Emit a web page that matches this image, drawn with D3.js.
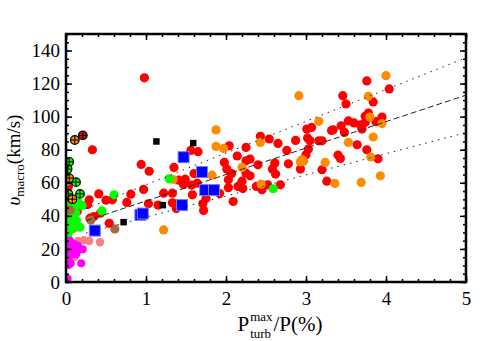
<!DOCTYPE html>
<html>
<head>
<meta charset="utf-8">
<script src="https://cdn.jsdelivr.net/npm/d3@7"></script>
<style>
body { margin:0; background:#fff; }
text { font-family:"Liberation Serif","DejaVu Serif",serif; }
</style>
</head>
<body>
<div id="chart-area"></div>
<script>
// data: [P_turb^max/P (%), v_macro (km/s)]
var redPts = [
  [0.33,80],[0.03,57.8],[0.02,54],[0.41,53.3],[0.81,53.1],[0.97,56],[0.5,49.5],[0.58,49.7],
  [0.76,48.1],[0.29,49.7],[0.27,46.9],[0.08,41.2],[0.14,42.6],[0.3,38.6],[0.35,39.6],[0.43,41.6],
  [0.54,35.5],[0.94,71.1],[1.04,67],
  [0.98,123.5],[1.56,79.6],[1.65,78.8],[2.04,82.4],[2.25,81.4],[2.14,76.2],[1.98,72.3],[2.25,73.3],
  [1.35,69.3],[1.6,65.6],[2.01,68.3],[2.07,65.6],[2.25,65.8],[2.03,61.8],[2.2,61],[2.21,56.5],
  [1.41,61.6],[1.49,62.2],[1.47,59],[1.57,58.6],[1.64,59.8],[1.92,53.5],[2.03,57],[2.09,48.7],
  [1.58,52.7],[1.22,53.7],[1.33,53.7],[1.33,47.9],[1.03,47.3],[1.15,46.5],[1.38,44.4],[1.75,50.5],
  [1.71,47.3],[1.72,43.2],[2.15,57.8],
  [3.46,112.7],[3.5,107.7],[3.53,97.4],[3.44,94.5],[3.34,92.1],[3.07,93.5],[3.01,92.5],[3.48,90.5],
  [3.02,87.1],[3.05,85.4],[3.16,85.4],[3.2,85.4],[2.87,85.6],[3.03,80.4],[3.0,77],[2.76,79.6],
  [2.65,83.8],[2.54,86.5],[2.43,88.1],[2.3,74.4],[3.4,76.8],[2.4,70.9],[2.61,71.9],[2.78,71.5],
  [2.58,68.3],[2.62,65.3],[2.93,68.3],[3.2,67.9],[3.43,74.7],[2.3,64.2],[2.38,57.8],[2.52,58.8],
  [2.45,55.8],[2.68,58.8],[3.26,61],[3.76,121.6],[4.04,116.8],[3.84,108.9],[3.6,96.2],[3.74,100.2],
  [3.78,102.2],[3.95,99.8],[3.875,97],[3.74,96.6],[3.7,92.5],[3.68,95],[3.64,83],[3.76,80],
  [3.9,74.5],[3.32,91.7]
];
var orangePts = [
  [1.875,92],[1.875,82],[1.97,80.8],[1.825,64.6],[2.2,69.3],[1.34,62],[1.22,31.5],[2.91,112.7],
  [3.16,97.2],[2.95,74],[2.43,84.4],[3.53,84.4],[2.93,72.7],[2.97,73.1],[3.24,72.3],[2.44,59.2],
  [3.36,59.6],[4.0,124.8],[3.78,112.3],[3.8,99.8],[3.95,95.8],[3.84,87.7],[3.81,75.6],[3.93,64.2],
  [3.69,60.2],[0.1,32.5]
];
var greenPts = [
  [1.29,62.4],[2.59,56.4],[0.6,52.7],[0.45,43],[0.06,46.7],[0.16,47.7],[0.2,46.2],[0.175,33.1],
  [0.04,36.5],[0.07,32.1],[0.03,29.9],[0.02,50],[0.1,44],[0.03,42],[0.12,42],[0.02,39],[0.07,39],
  [0.03,34],[0.0,65],[0.0,70],[0.01,61],[0.02,27.5],[0.09,48],[0.13,37]
];
var brownPts = [[0.05,43.6],[0.31,37.4],[0.61,32.1]];
var salmonPts = [[0.15,24.8],[0.225,25.3],[0.29,24.8],[0.425,24],[0.125,21.4],[0.11,15.3]];
var magentaPts = [
  [0.03,23.4],[0.07,21.4],[0.11,19.8],[0.175,19.8],[0.21,19.8],[0.06,18.4],[0.08,17],[0.03,15.3],
  [0.06,11.3],[0.19,11.3],[0.03,10.3],[0.02,2],[0.05,25],[0.1,23],[0.13,17],[0.04,20],[0.15,22]
];
var blackSq = [[1.13,85],[1.59,84],[1.21,46.5],[0.72,36.2]];
var blueSq = [[1.47,75.5],[1.7,66.5],[1.74,55.6],[1.85,55.6],[1.45,46.5],[0.93,40.6],[0.96,41.4],[0.36,31.1]];
var greenPlus = [[0.04,72.7],[0.02,68.3],[0.125,60.4],[0.175,53.3],[0.03,53.3]];
var orangePlus = [[0.11,85.9],[0.04,62.8],[0.08,50.1]];
var darkRedPlus = [[0.21,88.7]];

// fitted relation and +/- band (end points)
var fitX = [0.25, 5];
var fitMid = [37, 113];
var fitUpper = [44.4, 135.6];
var fitLower = [29.6, 90.4];

var xTicks = [0,1,2,3,4,5];
var yTicks = [0,20,40,60,80,100,120,140];

var W = 500, H = 341;
var margin = { left:66, right:34, top:34, bottom:59 };

var svg = d3.select("#chart-area").append("svg")
    .attr("width", W)
    .attr("height", H);

var x = d3.scaleLinear().domain([0,5]).range([margin.left, W - margin.right]);
var y = d3.scaleLinear().domain([0,150]).range([H - margin.bottom, margin.top]);

var plot = svg.append("g");

// clip so points on the axis get cut like in the original
svg.append("clipPath").attr("id","clip")
  .append("rect")
    .attr("x", x(0)).attr("y", y(150))
    .attr("width", x(5) - x(0)).attr("height", y(0) - y(150));

var marks = plot.append("g").attr("clip-path","url(#clip)");

function dots(data, color, r) {
    marks.append("g").selectAll("circle")
        .data(data).enter().append("circle")
        .attr("cx", function(d){ return x(d[0]); })
        .attr("cy", function(d){ return y(d[1]); })
        .attr("r", r)
        .attr("fill", color);
}
function squares(data, color, s, stroke) {
    marks.append("g").selectAll("rect")
        .data(data).enter().append("rect")
        .attr("x", function(d){ return x(d[0]) - s/2; })
        .attr("y", function(d){ return y(d[1]) - s/2; })
        .attr("width", s).attr("height", s)
        .attr("fill", color)
        .attr("stroke", stroke || "none");
}
function plusDots(data, color) {
    var g = marks.append("g").selectAll("g")
        .data(data).enter().append("g")
        .attr("transform", function(d){ return "translate(" + x(d[0]) + "," + y(d[1]) + ")"; });
    g.append("circle").attr("r", 4.3).attr("fill", color).attr("stroke", "#000").attr("stroke-width", 1.2);
    g.append("path").attr("d", "M-4.3,0H4.3M0,-4.3V4.3").attr("stroke", "#000").attr("stroke-width", 1);
}

dots(redPts, "#ff0000", 4.6);
dots(orangePts, "#ff8c00", 4.6);
dots(greenPts, "#00ff00", 4.6);
dots(brownPts, "#a5683a", 4.6);
dots(salmonPts, "#f88080", 4.2);
dots(magentaPts, "#ff00ff", 4);
squares(blackSq, "#000000", 6.5);
squares(blueSq, "#0000ff", 11, "#7a7aff");
plusDots(greenPlus, "#00ff00");
plusDots(orangePlus, "#ff8c00");
plusDots(darkRedPlus, "#d01010");

// fit lines
var line = d3.line()
    .x(function(d){ return x(d[0]); })
    .y(function(d){ return y(d[1]); });

function fit(vals, dash) {
    marks.append("path")
        .datum(fitX.map(function(v,i){ return [v, vals[i]]; }))
        .attr("d", line)
        .attr("fill", "none")
        .attr("stroke", "#222")
        .attr("stroke-width", 1)
        .attr("stroke-dasharray", dash);
}
fit(fitMid, "6,3");
fit(fitUpper, "1.5,5");
fit(fitLower, "1.5,5");

// axes: major + minor ticks, inward, on all four sides
var minorX = d3.range(0, 5.001, 0.2);
var minorY = d3.range(0, 150.1, 5);

function addAxis(axis, transform, labels) {
    var g = svg.append("g").attr("transform", transform).call(axis);
    g.select(".domain").remove();
    g.selectAll("line").attr("stroke-width", 1.5);
    if (labels) {
        g.selectAll("text")
            .attr("font-family", "'Liberation Serif', serif")
            .attr("font-size", "19px")
            .attr("fill", "#000");
    } else {
        g.selectAll("text").remove();
    }
    return g;
}

addAxis(d3.axisBottom(x).tickValues(minorX).tickSize(-3), "translate(0," + y(0) + ")", false);
addAxis(d3.axisTop(x).tickValues(minorX).tickSize(-3), "translate(0," + y(150) + ")", false);
addAxis(d3.axisLeft(y).tickValues(minorY).tickSize(-3), "translate(" + x(0) + ",0)", false);
addAxis(d3.axisRight(y).tickValues(minorY).tickSize(-3), "translate(" + x(5) + ",0)", false);

addAxis(d3.axisBottom(x).tickValues(xTicks).tickSize(-6).tickPadding(10).tickFormat(d3.format("d")),
    "translate(0," + y(0) + ")", true);
addAxis(d3.axisTop(x).tickValues(xTicks).tickSize(-6), "translate(0," + y(150) + ")", false);
addAxis(d3.axisLeft(y).tickValues(yTicks).tickSize(-6).tickPadding(6).tickFormat(d3.format("d")),
    "translate(" + x(0) + ",0)", true);
addAxis(d3.axisRight(y).tickValues(yTicks).tickSize(-6), "translate(" + x(5) + ",0)", false);

// frame
svg.append("rect")
    .attr("x", x(0)).attr("y", y(150))
    .attr("width", x(5) - x(0)).attr("height", y(0) - y(150))
    .attr("fill", "none")
    .attr("stroke", "#000")
    .attr("stroke-width", 2.5);

// y label
var yLabel = svg.append("text")
    .attr("transform", "translate(20," + 160 + ") rotate(-90)")
    .attr("text-anchor", "middle")
    .attr("font-size", "19px");
yLabel.append("tspan").attr("font-style", "italic").text("υ");
yLabel.append("tspan").attr("font-size", "13px").attr("dy", 4).text("macro");
yLabel.append("tspan").attr("dy", -4).text("(km/s)");

// x label: P with stacked sup/sub, then /P(%)
var xl = svg.append("g").attr("font-size", "21px");
var p1 = xl.append("text").attr("x", 0).attr("y", 0).text("P");
var w1 = p1.node().getComputedTextLength();
var sup = xl.append("text").attr("x", w1 + 1).attr("y", -10).attr("font-size", "13px").text("max");
var sub = xl.append("text").attr("x", w1 + 1).attr("y", 7).attr("font-size", "13px").text("turb");
var w2 = Math.max(sup.node().getComputedTextLength(), sub.node().getComputedTextLength());
var rest = xl.append("text").attr("x", w1 + w2 + 2).attr("y", 0).text("/P(%)");
var total = w1 + w2 + 2 + rest.node().getComputedTextLength();
xl.attr("transform", "translate(" + (280 - total / 2) + ",331)");
</script>
</body>
</html>
